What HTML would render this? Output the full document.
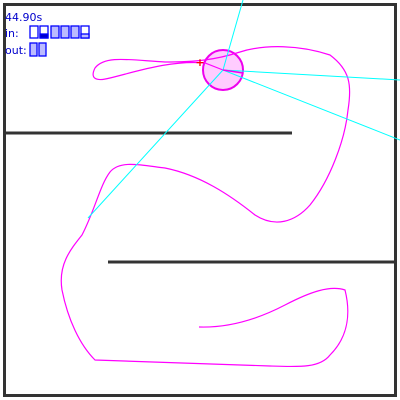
<!DOCTYPE html>
<html><head><style>
body{margin:0;width:400px;height:400px;background:#fff;overflow:hidden;font-family:"DejaVu Sans","Liberation Sans",sans-serif}
svg{position:absolute;left:0;top:0}
</style></head><body>
<svg width="400" height="400">
<rect x="4.5" y="4.5" width="391" height="391" fill="none" stroke="#333" stroke-width="3"/>
<line x1="4" y1="133" x2="292" y2="133" stroke="#333" stroke-width="3"/>
<line x1="108" y1="262" x2="396" y2="262" stroke="#333" stroke-width="3"/>
<circle cx="223" cy="70" r="20" fill="#fcf" stroke="#e0e" stroke-width="2"/>
<path d="M199,327 C230,328 260,318 285,305 C310,292 330,285 345,290 C350,310 350,335 330,355 C320,368 300,367 270,366 L95,360 C80,345 68,320 62,290 C58,265 70,250 82,235 C95,210 100,185 110,172 C120,160 140,165 165,168 C200,175 230,195 255,215 C275,228 295,222 310,205 C330,180 345,140 348,110 C352,85 350,70 330,55 C300,45 265,44 240,52 C215,60 195,62 165,62 C130,60 105,55 95,68 C90,78 95,82 110,78 C135,72 170,60 205,63 L223,70" fill="none" stroke="#f0f" stroke-width="1.2"/>
<g stroke="#0ff" stroke-width="1">
<line x1="223" y1="70" x2="243" y2="0"/>
<line x1="223" y1="70" x2="400" y2="80"/>
<line x1="223" y1="70" x2="400" y2="140"/>
<line x1="223" y1="70" x2="88" y2="218"/>
</g>
<line x1="223" y1="70" x2="243" y2="73" stroke="#e0e" stroke-width="1.5"/>
<text x="200" y="66" fill="#f00" font-size="11" font-weight="bold" text-anchor="middle">+</text>
<text x="5" y="21" fill="#00c" font-size="11">44.90s</text>
<text x="5" y="37" fill="#00c" font-size="11">in:</text>
<text x="5" y="54" fill="#00c" font-size="11">out:</text>
<g stroke="#00f" stroke-width="1.3">
<rect x="30" y="26" width="8" height="12" fill="#fff"/>
<rect x="40" y="26" width="8" height="12" fill="#fff"/>
<rect x="40" y="34" width="8" height="4" fill="#00c"/>
<rect x="51" y="26" width="8" height="12" fill="#bbf"/>
<rect x="61" y="26" width="8" height="12" fill="#bbf"/>
<rect x="71" y="26" width="8" height="12" fill="#bbf"/>
<rect x="81" y="26" width="8" height="12" fill="#fff"/>
<rect x="81" y="34" width="8" height="4" fill="#bbf"/>
</g>
<g stroke="#00f" stroke-width="1.3">
<rect x="30" y="43" width="7" height="13" fill="#bbf"/>
<rect x="39" y="43" width="7" height="13" fill="#bbf"/>
</g>
</svg>
</body></html>
